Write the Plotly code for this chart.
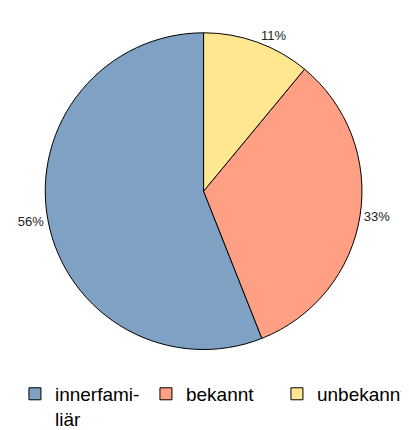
import plotly.graph_objects as go

categories = ['innerfami-<br>liär', 'bekannt', 'unbekannt']
shares = [56, 33, 11]
colors = ['#7FA1C3', '#FFA085', '#FFE691']

# first slice should run counterclockwise from 12 o'clock
start_angle = 360 * (1 - shares[0] / sum(shares))

fig = go.Figure(
    go.Pie(
        labels=categories,
        values=shares,
        sort=False,
        direction='counterclockwise',
        rotation=start_angle,
        domain=dict(x=[0.055, 0.9015], y=[0.077, 0.933]),
        marker=dict(colors=colors, line=dict(color='black', width=1)),
        textinfo='percent',
        textposition='outside',
        texttemplate='%{percent:.0%}',
        outsidetextfont=dict(family='Liberation Sans, Arial', size=13, color='#222'),
        hoverinfo='label+percent',
    )
)

fig.update_layout(
    width=409,
    height=430,
    paper_bgcolor='white',
    plot_bgcolor='white',
    margin=dict(t=0, b=60, l=0, r=0, autoexpand=False),
    showlegend=True,
    legend=dict(
        orientation='h',
        yanchor='bottom',
        y=-0.162,
        xanchor='left',
        x=0.017,
        valign='top',
        entrywidth=86,
        entrywidthmode='pixels',
        font=dict(family='Liberation Sans, Arial', size=19, color='black'),
        traceorder='normal',
    ),
)

fig.write_html('out.html')
